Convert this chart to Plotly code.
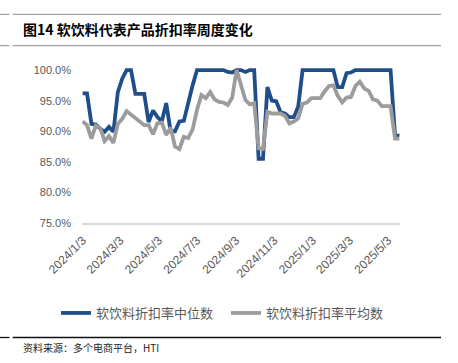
import plotly.graph_objects as go
import pandas as pd

# ---------------- data ----------------
start_date = "2024-01-03"
n_weeks = 73
dates = pd.date_range(start_date, periods=n_weeks, freq="7D")

median_rate = [
    96.2, 96.2, 91.2, 91.1, 90.4, 89.9, 90.7, 89.9, 96.4, 98.6,
    100.0, 100.0, 96.1, 96.1, 96.1, 91.5, 93.4, 92.3, 91.6, 94.6,
    90.0, 90.0, 91.6, 91.7, 94.8, 97.5, 100.0, 100.0, 100.0, 100.0,
    100.0, 100.0, 100.0, 99.7, 99.6, 100.0, 100.0, 99.7, 100.0, 100.0,
    85.5, 85.5, 97.2, 95.0, 94.9, 93.1, 92.9, 92.3, 92.3, 94.0,
    100.0, 100.0, 100.0, 100.0, 100.0, 100.0, 100.0, 100.0, 97.2, 97.2,
    99.5, 99.6, 100.0, 100.0, 100.0, 100.0, 100.0, 100.0, 100.0, 100.0,
    100.0, 89.4, 89.3,
]
mean_rate = [
    91.6, 91.0, 88.8, 90.9, 90.5, 88.4, 89.2, 88.1, 91.2, 92.0,
    93.3, 92.7, 92.2, 91.6, 91.0, 91.0, 89.5, 91.3, 91.4, 89.4,
    90.6, 87.5, 87.1, 89.1, 88.9, 90.3, 93.5, 95.9, 95.4, 96.4,
    95.2, 94.8, 94.7, 94.3, 95.5, 100.0, 97.5, 95.1, 94.4, 94.6,
    87.2, 87.1, 93.2, 92.9, 92.9, 92.9, 92.5, 91.3, 91.6, 92.1,
    94.5, 94.7, 95.4, 95.4, 95.4, 96.5, 97.4, 97.5, 95.8, 94.7,
    95.5, 95.6, 97.4, 98.1, 97.0, 96.6, 95.2, 95.0, 94.1, 94.1,
    94.1, 88.8, 88.8,
]

series_names = ["软饮料折扣率中位数", "软饮料折扣率平均数"]
x_tick_dates = ["2024-01-03", "2024-03-03", "2024-05-03", "2024-07-03", "2024-09-03",
                "2024-11-03", "2025-01-03", "2025-03-03", "2025-05-03"]
x_tick_labels = ["2024/1/3", "2024/3/3", "2024/5/3", "2024/7/3", "2024/9/3",
                 "2024/11/3", "2025/1/3", "2025/3/3", "2025/5/3"]
y_tick_vals = [75, 80, 85, 90, 95, 100]
y_tick_labels = ["75.0%", "80.0%", "85.0%", "90.0%", "95.0%", "100.0%"]

title_text = "图14 软饮料代表产品折扣率周度变化"
source_text = "资料来源：多个电商平台，HTI"

# ---------------- layout helpers ----------------
W, H = 458, 363
L, R, T, B = 82, 58, 67, 140
pw, ph = W - L - R, H - T - B


def px(x):
    return (x - L) / pw


def py(y):
    return (H - B - y) / ph


BLUE = "#1F4E89"
GRAY = "#9C9C9C"
TXT = "#595959"
CJK = "Noto Sans CJK SC"

fig = go.Figure()
fig.add_trace(go.Scatter(x=dates, y=median_rate, mode="lines", name=series_names[0],
                         line=dict(color=BLUE, width=3.8)))
fig.add_trace(go.Scatter(x=dates, y=mean_rate, mode="lines", name=series_names[1],
                         line=dict(color=GRAY, width=3.8)))

fig.update_layout(
    width=W, height=H,
    margin=dict(l=L, r=R, t=T, b=B, pad=0),
    paper_bgcolor="white", plot_bgcolor="white",
    showlegend=True,
    legend=dict(orientation="h", x=px(56), y=py(313), xanchor="left", yanchor="middle",
                font=dict(family=CJK, size=13, color=TXT), bgcolor="rgba(0,0,0,0)",
                entrywidth=125, entrywidthmode="pixels", itemwidth=30,
                borderwidth=0, tracegroupgap=0),
    xaxis=dict(
        type="date",
        range=["2024-01-02", "2025-05-22"],
        tickvals=x_tick_dates, ticktext=x_tick_labels,
        tickangle=-45,
        tickfont=dict(family="Liberation Sans", size=12, color=TXT),
        showgrid=False, zeroline=False,
        showline=True, linecolor="#D9D9D9", linewidth=1.5,
        ticks="", ticklabelstandoff=4,
    ),
    yaxis=dict(
        range=[75, 100.5],
        tickvals=y_tick_vals, ticktext=y_tick_labels,
        tickfont=dict(family="Liberation Sans", size=11, color=TXT),
        showgrid=False, zeroline=False, showline=False,
        ticks="", ticklabelstandoff=10,
    ),
)

# title and source
fig.add_annotation(text="<b>" + title_text + "</b>", xref="paper", yref="paper",
                   x=px(21), y=py(29), xanchor="left", yanchor="middle", showarrow=False,
                   font=dict(family=CJK, size=14, color="#000000"))
fig.add_annotation(text=source_text, xref="paper", yref="paper",
                   x=px(21), y=py(347), xanchor="left", yanchor="middle", showarrow=False,
                   font=dict(family=CJK, size=10, color="#222222"))

# frame lines
for yy, col, wd in [(14.3, "#8C8C8C", 1), (45.7, "#8C8C8C", 1), (337.5, "#111111", 1.3)]:
    fig.add_shape(type="line", xref="paper", yref="paper", x0=px(0), x1=px(9.5),
                  y0=py(yy), y1=py(yy), line=dict(color=col, width=wd))
    fig.add_shape(type="line", xref="paper", yref="paper", x0=px(12.7), x1=px(441),
                  y0=py(yy), y1=py(yy), line=dict(color=col, width=wd))

fig.write_html("out.html", config={"displayModeBar": False},
               post_script="document.body.style.margin='0';document.body.style.overflow='hidden';")
